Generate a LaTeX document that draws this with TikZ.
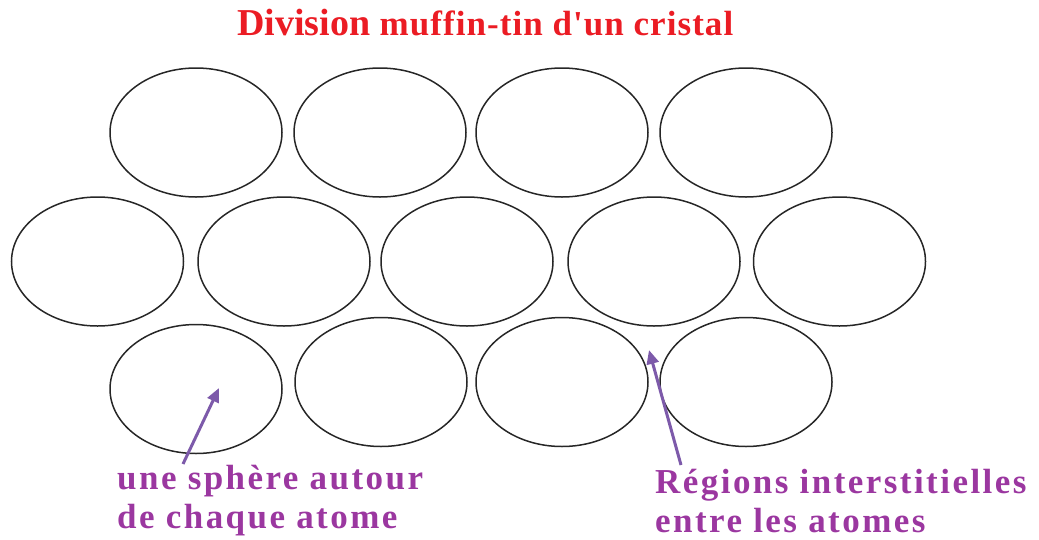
\documentclass[tikz,border=0pt]{standalone}
\usepackage{fontspec}
\setmainfont{Liberation Serif}
\newfontfamily\titlefont{Liberation Serif}[Ligatures=TeXOff]
\newfontfamily\labelfont{Liberation Serif}[LetterSpace=7]
\usetikzlibrary{arrows.meta}
\definecolor{titlered}{RGB}{235,28,36}
\definecolor{labelpurple}{RGB}{155,55,160}
\definecolor{arrowpurple}{RGB}{125,90,170}

\begin{document}
\begin{tikzpicture}[x=1pt, y=-1pt, >={Triangle[length=14pt,width=12pt]},
    atom/.style={draw=black!85, line width=1.5pt},
    pointer/.style={->, arrowpurple, line width=3pt},
    caption/.style={anchor=base west, align=left, inner sep=0, text=labelpurple,
      font=\labelfont\bfseries\fontsize{35}{39}\selectfont}]
    \useasboundingbox (0,0) rectangle (1039,539);

    % Title
    \node[anchor=base west, inner sep=0, text=titlered, font=\titlefont\bfseries] (title) at (237,35)
      {\fontsize{38}{40}\selectfont Division \fontsize{35}{40}\selectfont\addfontfeature{LetterSpace=3}muffin-tin d'un cristal};

    % Top row of spheres
    \draw[atom] (196,132.5) ellipse (86 and 64.5);
    \draw[atom] (380,132.5) ellipse (86 and 64.5);
    \draw[atom] (562,132.5) ellipse (86 and 64.5);
    \draw[atom] (746,132.5) ellipse (86 and 64.5);

    % Middle row
    \draw[atom] (97.5,261.5) ellipse (86 and 64.5);
    \draw[atom] (284,261.5) ellipse (86 and 64.5);
    \draw[atom] (467,261.5) ellipse (86 and 64.5);
    \draw[atom] (654,261.5) ellipse (86 and 64.5);
    \draw[atom] (839.5,261.5) ellipse (86 and 64.5);

    % Bottom row
    \draw[atom] (196,389) ellipse (86 and 64.5);
    \draw[atom] (381,382) ellipse (86 and 64.5);
    \draw[atom] (562,382) ellipse (86 and 64.5);
    \draw[atom] (746,382) ellipse (86 and 64.5);

    % Labels
    \node[caption] (sphere) at (117,528) {une sphère autour\\de chaque atome};
    \node[caption] (interstice) at (655,532) {Régions interstitielles\\entre les atomes};

    % Pointers
    \coordinate (sphereTail) at (183,464);
    \coordinate (sphereTip) at (219,388);
    \coordinate (intersticeTail) at (681,465);
    \coordinate (intersticeTip) at (649,350);
    \draw[pointer] (sphereTail) -- (sphereTip);
    \draw[pointer] (intersticeTail) -- (intersticeTip);
\end{tikzpicture}
\end{document}
